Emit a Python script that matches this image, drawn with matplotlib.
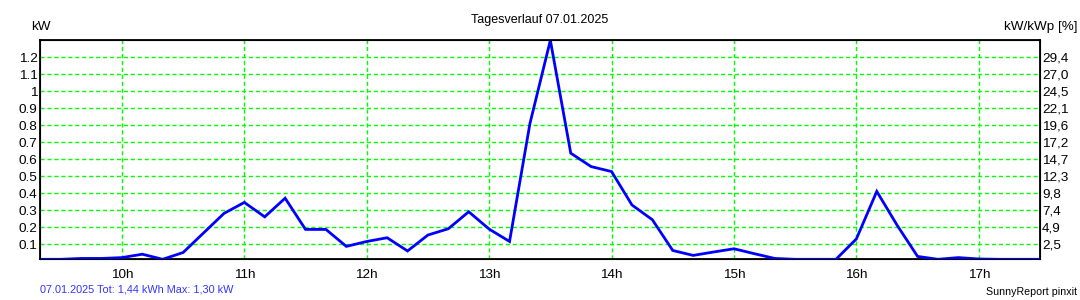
import matplotlib
matplotlib.use("Agg")
import matplotlib.pyplot as plt

plt.rcParams["font.family"] = ["Liberation Sans", "DejaVu Sans"]

# 10-minute samples, 09:20 .. 17:30
times = [
    "09:20", "09:30", "09:40", "09:50", "10:00", "10:10", "10:20", "10:30", "10:40", "10:50",
    "11:00", "11:10", "11:20", "11:30", "11:40", "11:50", "12:00", "12:10", "12:20", "12:30",
    "12:40", "12:50", "13:00", "13:10", "13:20", "13:30", "13:40", "13:50", "14:00", "14:10",
    "14:20", "14:30", "14:40", "14:50", "15:00", "15:10", "15:20", "15:30", "15:40", "15:50",
    "16:00", "16:10", "16:20", "16:30", "16:40", "16:50", "17:00", "17:10", "17:20", "17:30",
]
power_kw = [
    0.01, 0.01, 0.015, 0.015, 0.02, 0.04, 0.01, 0.05, 0.165, 0.28,
    0.345, 0.26, 0.37, 0.186, 0.186, 0.086, 0.115, 0.137, 0.059, 0.153,
    0.19, 0.29, 0.188, 0.115, 0.81, 1.30, 0.635, 0.556, 0.527, 0.33,
    0.243, 0.062, 0.033, 0.053, 0.072, 0.043, 0.015, 0.01, 0.01, 0.01,
    0.13, 0.41, 0.21, 0.027, 0.01, 0.02, 0.012, 0.01, 0.01, 0.01,
]

left_ticks = [0.1, 0.2, 0.3, 0.4, 0.5, 0.6, 0.7, 0.8, 0.9, 1.0, 1.1, 1.2]
left_labels = ["0.1", "0.2", "0.3", "0.4", "0.5", "0.6", "0.7", "0.8", "0.9", "1", "1.1", "1.2"]
right_labels = ["2,5", "4,9", "7,4", "9,8", "12,3", "14,7", "17,2", "19,6", "22,1", "24,5", "27,0", "29,4"]
hour_ticks = [10, 11, 12, 13, 14, 15, 16, 17]
hour_labels = ["10h", "11h", "12h", "13h", "14h", "15h", "16h", "17h"]


def to_hours(t):
    h, m = t.split(":")
    return int(h) + int(m) / 60


x = [to_hours(t) for t in times]

fig = plt.figure(figsize=(10.8, 3.0), dpi=100)
ax = fig.add_axes([40.3 / 1080, 1 - 259.3 / 300, (1040 - 40.3) / 1080, (259.3 - 40.3) / 300])

ax.plot(x, power_kw, color="#0000ff", lw=2.0, solid_joinstyle="miter", zorder=3)

ax.set_xlim(x[0], x[-1])
ax.set_ylim(0.01, 1.3)

ax.set_xticks(hour_ticks)
ax.set_xticklabels(hour_labels)
ax.set_yticks(left_ticks)
ax.set_yticklabels(left_labels)
ax.tick_params(axis="y", length=0, labelsize=9.7, pad=2)
ax.tick_params(axis="x", length=0, labelsize=9.7, pad=7)

ax.grid(True, color="#00ff00", linestyle=(0, (3, 2)), lw=1.0, zorder=1)
for sp in ax.spines.values():
    sp.set_color("black")
    sp.set_linewidth(1.3)

ax2 = ax.twinx()
ax2.set_ylim(ax.get_ylim())
ax2.set_yticks(left_ticks)
ax2.set_yticklabels(right_labels)
ax2.tick_params(length=0, labelsize=9.7, pad=1.5)

fig.text(540 / 1080, 1 - 20 / 300, "Tagesverlauf 07.01.2025", ha="center", va="center", fontsize=9)
fig.text(31 / 1080, 1 - 27 / 300, "kW", ha="left", va="center", fontsize=9.7)
fig.text(1077 / 1080, 1 - 27 / 300, "kW/kWp [%]", ha="right", va="center", fontsize=9.7)
fig.text(40 / 1080, 1 - 290 / 300, "07.01.2025 Tot: 1,44 kWh Max: 1,30 kW",
         ha="left", va="center", fontsize=7.8, color="#3333ff")
fig.text(1077 / 1080, 1 - 292 / 300, "SunnyReport pinxit", ha="right", va="center", fontsize=7.7)

fig.savefig("out.png", dpi=100, facecolor="white")
